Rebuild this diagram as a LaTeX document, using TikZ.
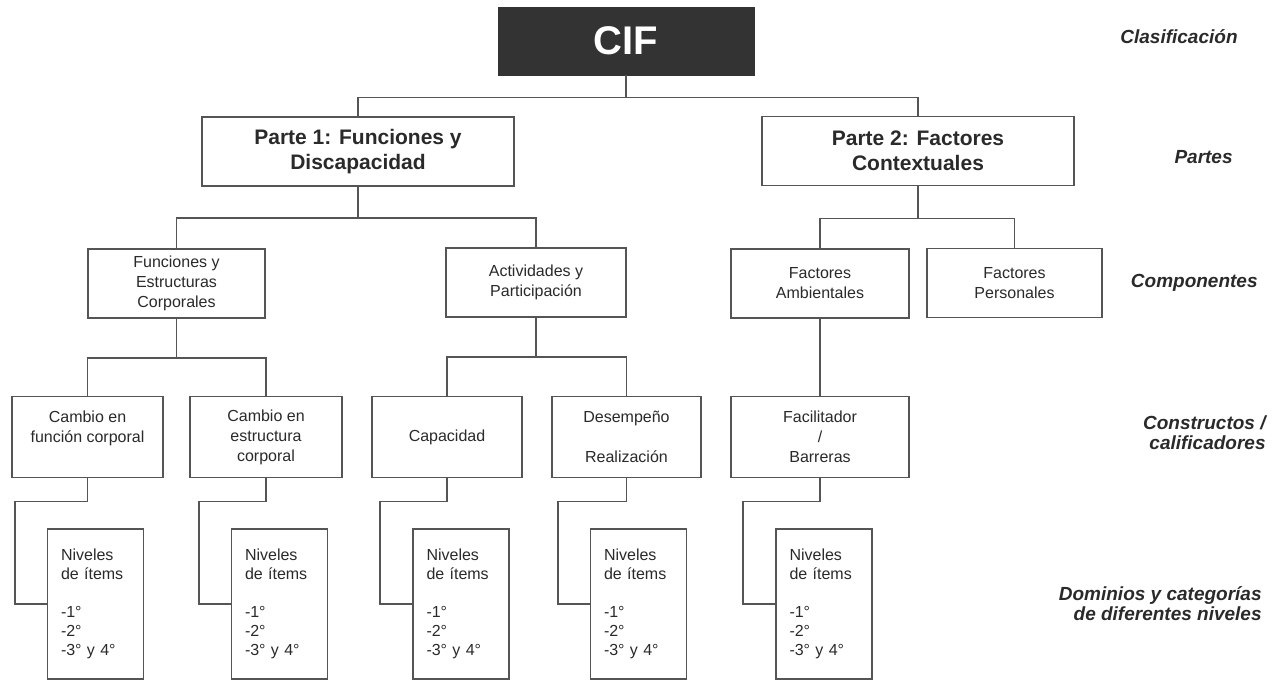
\documentclass[tikz,border=0pt]{standalone}
\usepackage{fontspec}
\setmainfont{Liberation Sans}
\usetikzlibrary{calc}
\definecolor{linec}{HTML}{555555}
\definecolor{textc}{HTML}{2A2A2A}
\definecolor{cifc}{HTML}{333333}
\begin{document}
\begin{tikzpicture}[x=0.5pt,y=-0.5pt,
  box/.style={draw=linec, line width=0.8pt, fill=white, inner sep=0pt, align=center, text=textc,
              font=\fontsize{8}{10}\selectfont},
  partbox/.style={box, minimum width=156pt, minimum height=34.5pt, font=\bfseries\fontsize{10.5}{12.5}\selectfont},
  compbox/.style={box, minimum height=34.5pt},
  conbox/.style={box, minimum height=40.5pt},
  lvlbox/.style={box, minimum width=48pt, minimum height=75pt, align=left, text width=34.5pt,
                 font=\fontsize{8}{9.5}\selectfont},
  lbl/.style={anchor=east, align=right, text=textc, inner sep=0pt,
              font=\bfseries\itshape\fontsize{9.5}{10}\selectfont},
  conn/.style={draw=linec, line width=0.8pt}]
\useasboundingbox (0,0) rectangle (1284,680);

% level 0
\node[draw=cifc, fill=cifc, minimum width=128pt, minimum height=34pt, inner sep=0pt,
      text=white, font=\bfseries\fontsize{20}{24}\selectfont] (CIF) at (626,41) {CIF};

% level 1
\node[partbox] (P1) at (358,151.5) {Parte 1: Funciones y\\Discapacidad};
\node[partbox] (P2) at (918,151) {Parte 2: Factores\\Contextuales};

% level 2
\node[compbox, minimum width=88.5pt] (FEC) at (176.5,283.5) {Funciones y\\Estructuras\\Corporales};
\node[compbox, minimum width=90pt] (AP) at (536,282.5) {Actividades y\\Participación};
\node[compbox, minimum width=89pt] (FA) at (820,283.5) {Factores\\Ambientales};
\node[compbox, minimum width=87.5pt] (FP) at (1014.5,283) {Factores\\Personales};

% level 3
\node[conbox, minimum width=75.5pt] (CF) at (87.5,437) {Cambio en\\función corporal\\\mbox{}};
\node[conbox, minimum width=76pt] (CE) at (266,437) {Cambio en\\estructura\\corporal};
\node[conbox, minimum width=75pt] (CAP) at (447,437) {Capacidad};
\node[conbox, minimum width=74.5pt] (DES) at (626.5,437) {Desempeño\\[10pt]Realización};
\node[conbox, minimum width=89pt] (FAC) at (820,437) {Facilitador\\/\\Barreras};

% level 4
\foreach \n/\x in {N1/95.5, N2/279.5, N3/461, N4/638.5, N5/824}{
  \node[lvlbox] (\n) at (\x,604) {Niveles\\de ítems\\[9.5pt]-1°\\-2°\\-3° y 4°};
}

% connectors
\draw[conn] (CIF.south) -- ++(0,22) -| (P1.north);
\draw[conn] (CIF.south) -- ++(0,22) -| (P2.north);
\draw[conn] (P1.south) -- ++(0,31) -| (FEC.north);
\draw[conn] (P1.south) -- ++(0,31) -| (AP.north);
\draw[conn] (P2.south) -- ++(0,32) -| (FA.north);
\draw[conn] (P2.south) -- ++(0,32) -| (FP.north);
\draw[conn] (FEC.south) -- ++(0,39) -| (CF.north);
\draw[conn] (FEC.south) -- ++(0,39) -| (CE.north);
\draw[conn] (AP.south) -- ++(0,39) -| (CAP.north);
\draw[conn] (AP.south) -- ++(0,39) -| (DES.north);
\draw[conn] (FA.south) -- (FAC.north);
\foreach \a/\b in {CF/N1, CE/N2, CAP/N3, DES/N4, FAC/N5}{
  \draw[conn] (\a.south) -- ++(0,23) -| ($(\b.west)+(-32,0)$) -- (\b.west);
}

% side labels
\node[lbl] (L1) at (1238,37) {Clasificación};
\node[lbl] (L2) at (1233,157) {Partes};
\node[lbl] (L3) at (1258,283) {Componentes};
\node[lbl] (L4) at (1266,433) {Constructos /\\calificadores};
\node[lbl] (L5) at (1262,604) {Dominios y categorías\\de diferentes niveles};
\end{tikzpicture}
\end{document}
